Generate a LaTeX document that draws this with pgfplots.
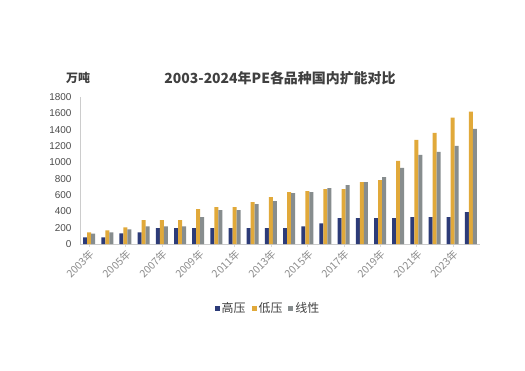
\documentclass[border=0pt]{standalone}
\usepackage{pgfplots}
\pgfplotsset{compat=1.18}
\usepackage{fontspec}
\setmainfont{Noto Sans CJK SC}
\newfontfamily\numfont{Liberation Sans}
\definecolor{cnavy}{HTML}{2C3B78}
\definecolor{cgold}{HTML}{E1A93A}
\definecolor{cgray}{HTML}{878D8E}
\definecolor{ctext}{HTML}{404040}
\begin{document}
\begin{tikzpicture}[x=1bp,y=1bp]
\useasboundingbox[fill=white] (0,0) rectangle (525,370);
\begin{axis}[
  at={(80bp,126bp)}, anchor=south west,
  scale only axis, width=400bp, height=147bp,
  ymin=0, ymax=1800, ytick={0,200,...,1800},
  xmin=-0.5, xmax=21.5,
  xtick={0,2,...,20},
  xticklabels={2003年,2005年,2007年,2009年,2011年,2013年,2015年,2017年,2019年,2021年,2023年},
  x tick label style={rotate=45, anchor=north east, font=\fontsize{10.5}{10.5}\selectfont\color{black!45}, inner sep=1bp},
  y tick label style={font=\fontsize{10}{10}\selectfont\numfont\color{black!70}, xshift=-5bp},
  /pgf/number format/assume math mode=true,
  yticklabel={\pgfmathprintnumber[fixed,1000 sep={}]{\tick}},
  axis line style={draw=black!20},
  axis x line*=bottom, axis y line*=left,
  tick style={draw=black!20},
  ytick style={draw=none},
  xtick style={draw=black!15},
  major tick length=3bp,
  ybar=0pt, bar width=4bp,
  legend style={at={(0.47,-0.44)}, anchor=center, draw=none, legend columns=-1,
    font=\fontsize{12}{12}\selectfont\color{ctext}, /tikz/every even column/.append style={column sep=4bp}},
  legend image code/.code={\fill[#1] (0bp,-2.5bp) rectangle (5bp,2.5bp);},
  clip=false,
]
\addplot[fill=cnavy, draw=none] coordinates {(0,82) (1,82) (2,131) (3,143) (4,193) (5,193) (6,193) (7,193) (8,193) (9,193) (10,193) (11,193) (12,217) (13,254) (14,316) (15,316) (16,316) (17,316) (18,328) (19,328) (20,328) (21,390)};
\addplot[fill=cgold, draw=none] coordinates {(0,143) (1,168) (2,205) (3,291) (4,291) (5,291) (6,426) (7,451) (8,451) (9,512) (10,574) (11,635) (12,648) (13,672) (14,672) (15,758) (16,783) (17,1017) (18,1275) (19,1361) (20,1546) (21,1620)};
\addplot[fill=cgray, draw=none] coordinates {(0,127) (1,143) (2,180) (3,217) (4,217) (5,217) (6,328) (7,414) (8,414) (9,488) (10,525) (11,623) (12,635) (13,685) (14,722) (15,758) (16,820) (17,931) (18,1091) (19,1128) (20,1201) (21,1410)};
\legend{高压,低压,线性}
\end{axis}
\node[font=\fontsize{12}{12}\selectfont\bfseries, text=ctext] at (78,292) {万吨};
\node[font=\fontsize{14}{14}\selectfont\bfseries, text=ctext] at (280,292) {2003-2024年PE各品种国内扩能对比};
\end{tikzpicture}
\end{document}
